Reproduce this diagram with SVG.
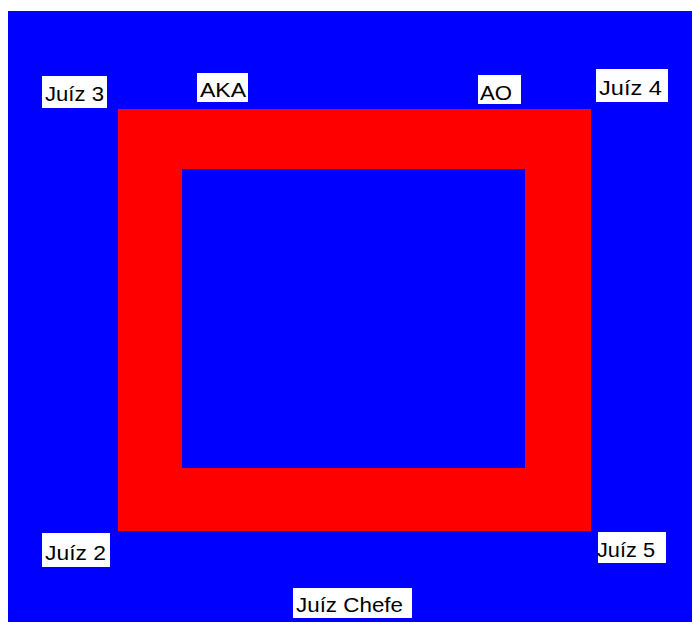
<svg xmlns="http://www.w3.org/2000/svg" width="692" height="622" viewBox="0 0 692 622">
<style>
.lbl rect{fill:#ffffff}
.lbl text{font-family:"Liberation Sans",Arial,sans-serif;font-size:21px;fill:#000000}
</style>
<rect x="0" y="0" width="692" height="622" fill="#ffffff"/>
<g id="field">
<rect x="8" y="11" width="684" height="611" fill="#0000ff"/>
<rect x="118" y="109" width="473" height="422" fill="#ff0000"/>
<rect x="182" y="169" width="343" height="299" fill="#0000ff"/>
</g>
<g id="connectors"></g>
<g id="juiz3" class="lbl"><rect x="42" y="76" width="65" height="32"/><text x="45" y="101" textLength="59" lengthAdjust="spacingAndGlyphs">Juíz 3</text></g>
<g id="aka" class="lbl"><rect x="197" y="73" width="51" height="29"/><text x="200" y="97" textLength="46" lengthAdjust="spacingAndGlyphs">AKA</text></g>
<g id="ao" class="lbl"><rect x="478" y="75" width="43" height="29"/><text x="480" y="100" textLength="32" lengthAdjust="spacingAndGlyphs">AO</text></g>
<g id="juiz4" class="lbl"><rect x="596" y="69" width="72" height="33"/><text x="599" y="95" textLength="63" lengthAdjust="spacingAndGlyphs">Juíz 4</text></g>
<g id="juiz2" class="lbl"><rect x="42" y="533" width="68" height="34"/><text x="45" y="560" textLength="61" lengthAdjust="spacingAndGlyphs">Juíz 2</text></g>
<g id="juiz5" class="lbl"><rect x="598" y="532" width="68" height="31"/><text x="597" y="557" textLength="58" lengthAdjust="spacingAndGlyphs">Juíz 5</text></g>
<g id="juizchefe" class="lbl"><rect x="293" y="588" width="119" height="30"/><text x="296" y="612" textLength="107" lengthAdjust="spacingAndGlyphs">Juíz Chefe</text></g>
</svg>
